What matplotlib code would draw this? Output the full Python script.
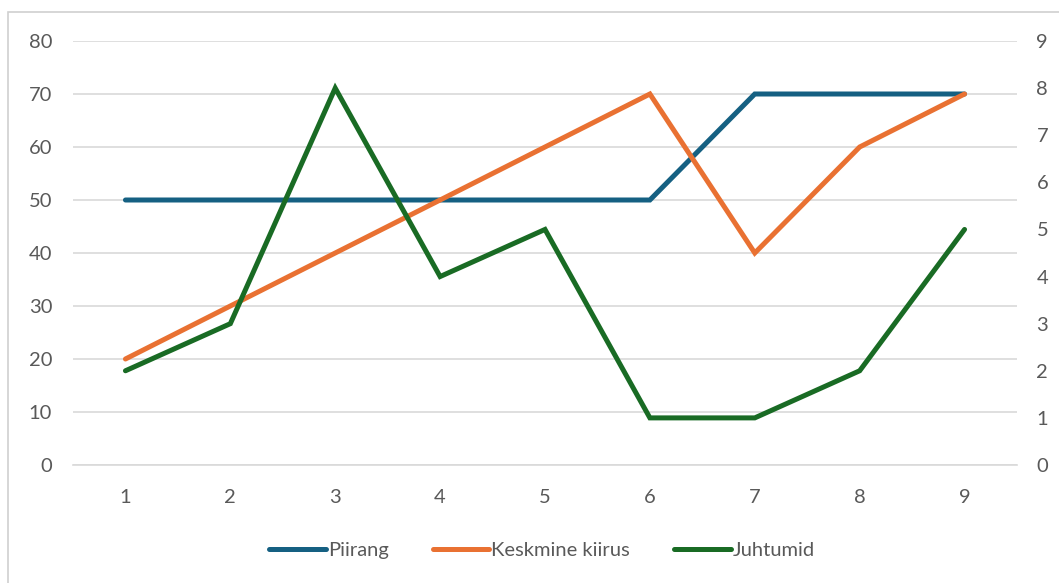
import matplotlib.pyplot as plt
from matplotlib.patches import Rectangle

plt.rcParams['font.family'] = ['Lato', 'DejaVu Sans']

days = [1, 2, 3, 4, 5, 6, 7, 8, 9]
piirang = [50, 50, 50, 50, 50, 50, 70, 70, 70]
keskmine_kiirus = [20, 30, 40, 50, 60, 70, 40, 60, 70]
juhtumid = [2, 3, 8, 4, 5, 1, 1, 2, 5]

BLUE = '#156082'
ORANGE = '#E97132'
GREEN = '#196B24'
TEXT = '#595959'
GRID = '#D9D9D9'

fig = plt.figure(figsize=(10.59, 5.83), dpi=100)
fig.patches.append(Rectangle((8 / 1059, -0.05), 1.2, 1 - 12 / 583 + 0.05,
                             transform=fig.transFigure, fill=False,
                             edgecolor='#D0D0D0', linewidth=1.2))

ax = fig.add_axes([73 / 1059, 1 - 465 / 583, (1017 - 73) / 1059, (465 - 41) / 583])
ax2 = ax.twinx()

l1, = ax.plot(days, piirang, color=BLUE, lw=3.6, solid_capstyle='round',
              solid_joinstyle='miter', label='Piirang')
l2, = ax.plot(days, keskmine_kiirus, color=ORANGE, lw=3.6, solid_capstyle='round',
              solid_joinstyle='miter', label='Keskmine kiirus')
l3, = ax2.plot(days, juhtumid, color=GREEN, lw=3.6, solid_capstyle='round',
               solid_joinstyle='miter', label='Juhtumid')

ax.set_xlim(0.5, 9.5)
ax.set_ylim(0, 80)
ax.set_yticks(range(0, 81, 10))
ax2.set_ylim(0, 9)
ax2.set_yticks(range(0, 10))
ax.set_xticks(days)

ax.grid(axis='y', color=GRID, lw=1.2)
ax.set_axisbelow(True)
for a in (ax, ax2):
    for s in a.spines.values():
        s.set_visible(False)
    a.tick_params(length=0, labelsize=14.5, labelcolor=TEXT)
ax.spines['bottom'].set_visible(True)
ax.spines['bottom'].set_color(GRID)
ax.spines['bottom'].set_linewidth(1.2)
ax.tick_params(axis='y', pad=15)
ax.tick_params(axis='x', pad=17)
ax2.tick_params(axis='y', pad=14)

fig.legend([l1, l2, l3], ['Piirang', 'Keskmine kiirus', 'Juhtumid'],
           loc='center', bbox_to_anchor=(0.512, 1 - 550 / 583), ncol=3,
           frameon=False, fontsize=14.5, labelcolor=TEXT, handlelength=2.8,
           handletextpad=0.1, columnspacing=2.2)

plt.savefig('out.png', dpi=100)
